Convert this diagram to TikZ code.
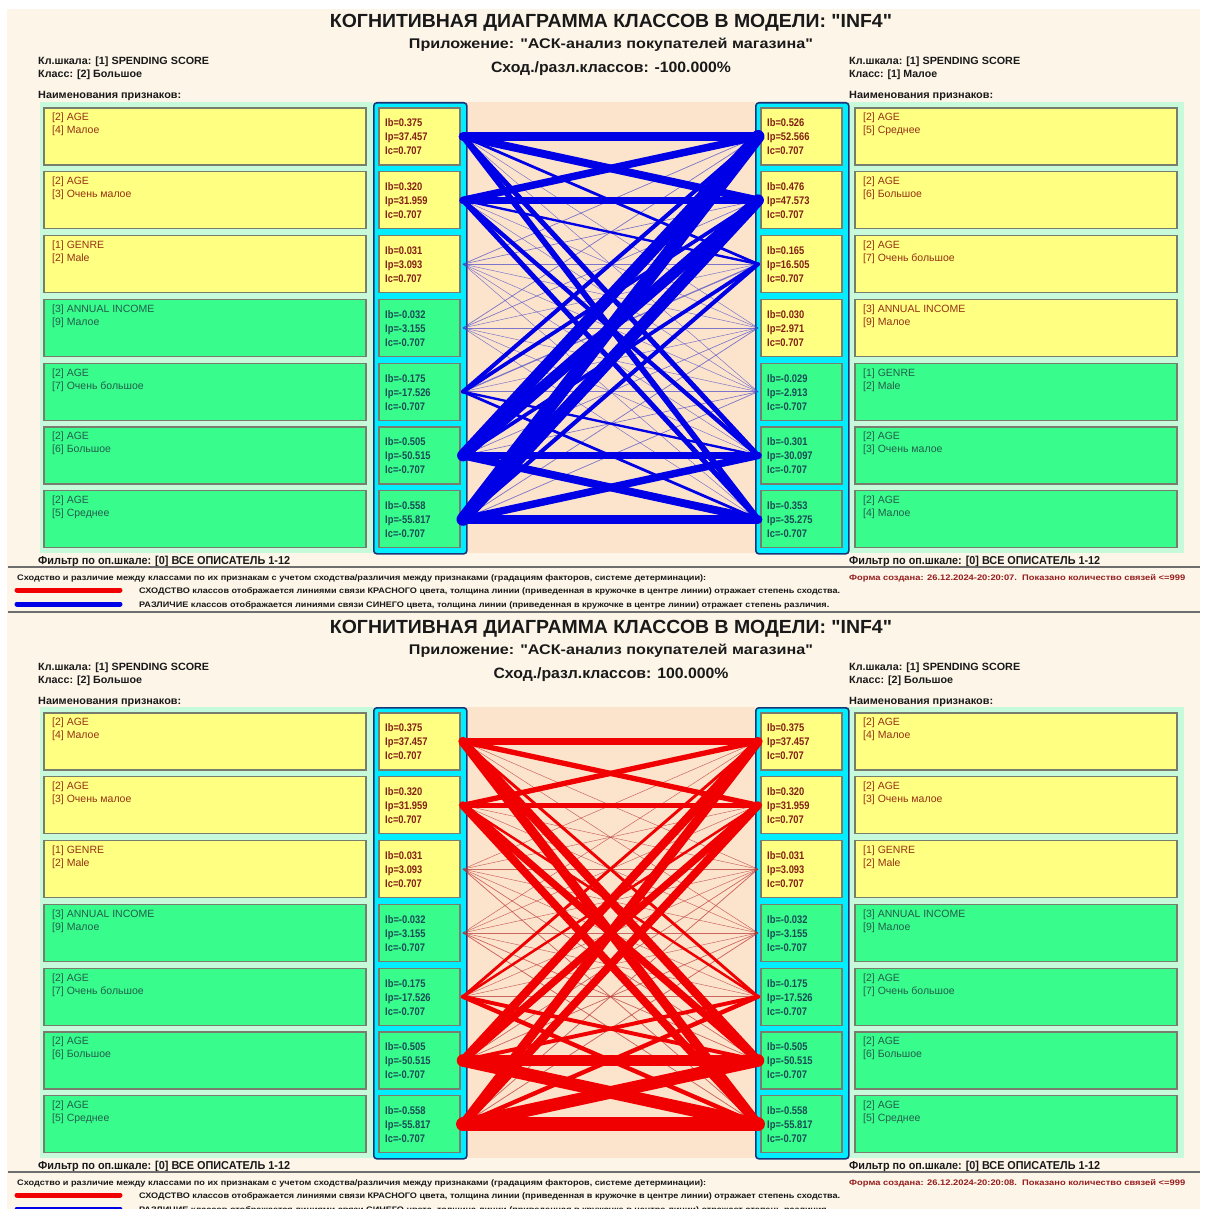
\documentclass[tikz,border=0pt]{standalone}
\usepackage{fontspec}
\setmainfont{Liberation Sans}
\newfontfamily\nf[FakeStretch=0.85]{Liberation Sans}
\usepackage{graphicx}

\definecolor{bgbeige}{RGB}{252,245,232}
\definecolor{mint}{RGB}{198,250,218}
\definecolor{peach}{RGB}{252,228,204}
\definecolor{boxy}{RGB}{255,255,130}
\definecolor{boxg}{RGB}{56,252,140}
\definecolor{boxline}{RGB}{120,125,110}
\definecolor{cyanc}{RGB}{0,238,255}
\definecolor{cyanline}{RGB}{25,55,120}
\definecolor{txty}{RGB}{150,50,20}
\definecolor{txtg}{RGB}{35,95,75}
\definecolor{valy}{RGB}{130,30,20}
\definecolor{valg}{RGB}{25,75,85}
\definecolor{hdrc}{RGB}{25,25,25}
\definecolor{datered}{RGB}{150,30,30}
\definecolor{lred}{RGB}{240,0,0}
\definecolor{lblue}{RGB}{0,0,230}
\definecolor{lredthin}{RGB}{185,50,50}
\definecolor{lbluethin}{RGB}{70,70,200}
\definecolor{sepgray}{RGB}{110,110,110}

\newcommand\fw[2]{\resizebox{#1}{\height}{#2}}
\newcommand\dq{\XeTeXglyph\XeTeXcharglyph"22\relax}

\tikzset{
 featbox/.style={draw=boxline,line width=1.2pt,minimum width=322pt,minimum height=57pt,anchor=north west,inner sep=0pt,outer sep=0pt},
 valbox/.style={featbox,minimum width=81pt},
 colbox/.style={draw=cyanline,fill=cyanc,line width=1.6pt,rounded corners=3pt,minimum width=93pt,minimum height=451pt,anchor=north west,inner sep=0pt},
 ftext/.style={anchor=north west,align=left,inner sep=0pt,font=\fontsize{10.5}{13}\selectfont},
 vtext/.style={anchor=north west,align=left,inner sep=0pt,font=\nf\bfseries\fontsize{11}{14}\selectfont},
 hdr/.style={anchor=base west,inner sep=0pt,text=hdrc,font=\bfseries\fontsize{10.5}{12}\selectfont},
 legtxt/.style={anchor=base west,inner sep=0pt,text=hdrc,font=\bfseries\fontsize{8}{9}\selectfont},
 legline/.style={line width=5pt,line cap=round},
 sepline/.style={draw=sepgray,line width=1.2pt}
}

% #1 prefix, #2 side L/R, #3 row, #4 #5 feature lines, #6 Ib, #7 Ip, #8 Ic, #9 y/g
\newcommand\frow[9]{%
 \pgfmathsetmacro\rowtop{108+(#3-1)*63.8}%
 \ifx#2L\def\fx{44}\def\vx{379}\def\cx{463}\else\def\fx{855}\def\vx{761}\def\cx{758}\fi
 \ifx#9y\def\bc{boxy}\def\tc{txty}\def\vc{valy}\else\def\bc{boxg}\def\tc{txtg}\def\vc{valg}\fi
 \node[featbox,fill=\bc] (#1#2f#3) at (\fx,\rowtop) {};
 \node[ftext,text=\tc] (#1#2ft#3) at (\fx+8,\rowtop+5) {#4\\{}#5};
 \node[valbox,fill=\bc] (#1#2v#3) at (\vx,\rowtop) {};
 \node[vtext,text=\vc] (#1#2vt#3) at (\vx+6,\rowtop+10.8) {Ib=#6\\{}Ip=#7\\{}Ic=#8};
 \coordinate (#1#2c#3) at (\cx,\rowtop+28.5);
}

\newcommand\stdrows[2]{%
 \frow{#1}{#2}{1}{[2] AGE}{[4] Малое}{0.375}{37.457}{0.707}{y}%
 \frow{#1}{#2}{2}{[2] AGE}{[3] Очень малое}{0.320}{31.959}{0.707}{y}%
 \frow{#1}{#2}{3}{[1] GENRE}{[2] Male}{0.031}{3.093}{0.707}{y}%
 \frow{#1}{#2}{4}{[3] ANNUAL INCOME}{[9] Малое}{-0.032}{-3.155}{-0.707}{g}%
 \frow{#1}{#2}{5}{[2] AGE}{[7] Очень большое}{-0.175}{-17.526}{-0.707}{g}%
 \frow{#1}{#2}{6}{[2] AGE}{[6] Большое}{-0.505}{-50.515}{-0.707}{g}%
 \frow{#1}{#2}{7}{[2] AGE}{[5] Среднее}{-0.558}{-55.817}{-0.707}{g}%
}

\newcommand\links[1]{%
 \foreach \i/\a in {1/37.457,2/31.959,3/3.093,4/-3.155,5/-17.526,6/-50.515,7/-55.817}{%
  \foreach \j/\b in \rlist{%
   \pgfmathsetmacro\lw{max(0.5,abs(\a*\b)/225)}%
   \ifdim\lw pt<1.6pt
    \draw[line width=\lw pt,draw=\thinc,draw opacity=0.7] (#1Lc\i) -- (#1Rc\j);
   \fi}}%
 \foreach \i/\a in {1/37.457,2/31.959,3/3.093,4/-3.155,5/-17.526,6/-50.515,7/-55.817}{%
  \foreach \j/\b in \rlist{%
   \pgfmathsetmacro\lw{max(0.5,abs(\a*\b)/225)}%
   \ifdim\lw pt<1.6pt\else
    \draw[line width=\lw pt,draw=\thickc,line cap=round] (#1Lc\i) -- (#1Rc\j);
   \fi}}%
}

% #1 prefix, #2 vertical offset
\newcommand\panel[2]{%
\begin{scope}[yshift=-#2pt]
 \fill[mint] (40,102) rectangle (373,553);
 \fill[mint] (848,102) rectangle (1184,553);
 \fill[peach] (466,102) rectangle (755,553);
 \node[colbox] (#1Lcol) at (373,102) {};
 \node[colbox] (#1Rcol) at (755,102) {};
 \stdrows{#1}{L}%
 \rrows
 \links{#1}%
 \node[anchor=base,inner sep=0pt,text=hdrc,font=\bfseries\fontsize{19}{19}\selectfont] (#1title) at (611,28) {\fw{562pt}{КОГНИТИВНАЯ ДИАГРАММА КЛАССОВ В МОДЕЛИ: \dq INF4\dq}};
 \node[anchor=base,inner sep=0pt,text=hdrc,font=\bfseries\fontsize{14}{14}\selectfont] (#1app) at (611,49) {\fw{404pt}{Приложение: \dq АСК-анализ покупателей магазина\dq}};
 \node[anchor=base,inner sep=0pt,text=hdrc,font=\bfseries\fontsize{15}{15}\selectfont] (#1sim) at (611,73) {\fw{\simw}{\simtext}};
 \node[hdr] (#1lscale) at (38,65) {\fw{171pt}{Кл.шкала: [1] SPENDING SCORE}};
 \node[hdr] (#1lclass) at (38,78) {\fw{104pt}{Класс: [2] Большое}};
 \node[hdr] (#1lnames) at (38,99) {\fw{143pt}{Наименования признаков:}};
 \node[hdr] (#1rscale) at (849,65) {\fw{171pt}{Кл.шкала: [1] SPENDING SCORE}};
 \node[hdr] (#1rclass) at (849,78) {\fw{\rclsw}{\rcls}};
 \node[hdr] (#1rnames) at (849,99) {\fw{144pt}{Наименования признаков:}};
 \node[hdr,font=\bfseries\fontsize{11.5}{12}\selectfont] (#1lfilt) at (38,564) {\fw{252pt}{Фильтр по оп.шкале: [0] ВСЕ ОПИСАТЕЛЬ 1-12}};
 \node[hdr,font=\bfseries\fontsize{11.5}{12}\selectfont] (#1rfilt) at (849,564) {\fw{251pt}{Фильтр по оп.шкале: [0] ВСЕ ОПИСАТЕЛЬ 1-12}};
 \draw[sepline] (8,567) -- (1200,567);
 \node[legtxt] (#1leg) at (17,580) {\fw{689pt}{Сходство и различие между классами по их признакам с учетом сходства/различия между признаками (градациям факторов, системе детерминации):}};
 \draw[legline,draw=lred] (17,590) -- (120,590);
 \node[legtxt] (#1legred) at (139,593) {\fw{701pt}{СХОДСТВО классов отображается линиями связи КРАСНОГО цвета, толщина линии (приведенная в кружочке в центре линии) отражает степень сходства.}};
 \draw[legline,draw=lblue] (17,604) -- (120,604);
 \node[legtxt] (#1legblue) at (139,607) {\fw{690pt}{РАЗЛИЧИЕ классов отображается линиями связи СИНЕГО цвета, толщина линии  (приведенная в кружочке в центре линии) отражает степень различия.}};
 \node[legtxt,text=datered] (#1date) at (849,580) {\fw{336pt}{\datetext}};
 \draw[sepline] (8,612) -- (1200,612);
\end{scope}}

\begin{document}
\begin{tikzpicture}[x=1pt,y=-1pt]
\useasboundingbox (0,0) rectangle (1206,1209);
\fill[white] (0,0) rectangle (1206,1209);
\fill[bgbeige] (7,9) rectangle (1200,1209);

% top panel
\def\simtext{Сход./разл.классов: -100.000\%}
\def\simw{240pt}
\def\rcls{Класс: [1] Малое}
\def\rclsw{88pt}
\def\datetext{Форма создана: 26.12.2024-20:20:07.\ \ Показано количество связей <=999}
\def\thickc{lblue}
\def\thinc{lbluethin}
\def\rlist{1/52.566,2/47.573,3/16.505,4/2.971,5/-2.913,6/-30.097,7/-35.275}
\def\rrows{%
 \frow{t}{R}{1}{[2] AGE}{[5] Среднее}{0.526}{52.566}{0.707}{y}%
 \frow{t}{R}{2}{[2] AGE}{[6] Большое}{0.476}{47.573}{0.707}{y}%
 \frow{t}{R}{3}{[2] AGE}{[7] Очень большое}{0.165}{16.505}{0.707}{y}%
 \frow{t}{R}{4}{[3] ANNUAL INCOME}{[9] Малое}{0.030}{2.971}{0.707}{y}%
 \frow{t}{R}{5}{[1] GENRE}{[2] Male}{-0.029}{-2.913}{-0.707}{g}%
 \frow{t}{R}{6}{[2] AGE}{[3] Очень малое}{-0.301}{-30.097}{-0.707}{g}%
 \frow{t}{R}{7}{[2] AGE}{[4] Малое}{-0.353}{-35.275}{-0.707}{g}%
}
\panel{t}{0}

% bottom panel
\def\simtext{Сход./разл.классов: 100.000\%}
\def\simw{235pt}
\def\rcls{Класс: [2] Большое}
\def\rclsw{104pt}
\def\datetext{Форма создана: 26.12.2024-20:20:08.\ \ Показано количество связей <=999}
\def\thickc{lred}
\def\thinc{lredthin}
\def\rlist{1/37.457,2/31.959,3/3.093,4/-3.155,5/-17.526,6/-50.515,7/-55.817}
\def\rrows{\stdrows{b}{R}}
\panel{b}{605}
\end{tikzpicture}
\end{document}
